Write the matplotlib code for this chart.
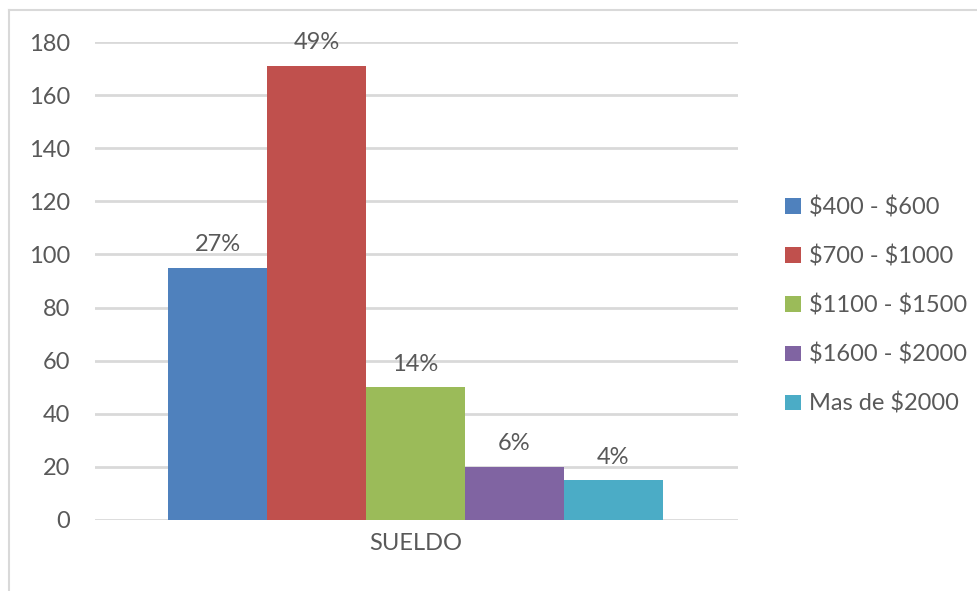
import matplotlib
matplotlib.use("Agg")
import matplotlib.pyplot as plt
from matplotlib.patches import Patch
from matplotlib.lines import Line2D

categories = ["$400 - $600", "$700 - $1000", "$1100 - $1500", "$1600 - $2000", "Mas de $2000"]
values = [95, 171, 50, 20, 15]
pct_labels = ["27%", "49%", "14%", "6%", "4%"]
colors = ["#4F81BD", "#C0504D", "#9BBB59", "#8064A2", "#4BACC6"]
group_label = "SUELDO"
yticks = [0, 20, 40, 60, 80, 100, 120, 140, 160, 180]

plt.rcParams['font.family'] = ['Lato', 'DejaVu Sans']
plt.rcParams['text.parse_math'] = False
txt = "#595959"
fs = 17

fig = plt.figure(figsize=(9.77, 5.91), dpi=100)
ax = fig.add_axes([95/977, 1-520/591, (738-95)/977, (520-42)/591])

xs = list(range(len(values)))
ax.bar(xs, values, width=1.0, color=colors, zorder=3)
for x, v, lab in zip(xs, values, pct_labels):
    ax.annotate(lab, (x, v), xytext=(0, 9), textcoords="offset points",
                ha="center", va="bottom", fontsize=fs, color=txt)

ax.set_ylim(0, 180)
ax.set_yticks(yticks)
ax.set_xlim(-1.237, 5.258)
ax.set_xticks([2])
ax.set_xticklabels([group_label])
ax.tick_params(axis="both", length=0, labelsize=fs, colors=txt)
ax.tick_params(axis="y", pad=18)
ax.tick_params(axis="x", pad=9)
ax.yaxis.grid(True, color="#d9d9d9", linewidth=2, zorder=0)
for s in ax.spines.values():
    s.set_visible(False)

handles = [Patch(facecolor=c, edgecolor="none") for c in colors]
leg = fig.legend(handles, categories, loc="upper left",
                 bbox_to_anchor=(764/977, 1-175/591),
                 frameon=False, fontsize=fs, labelcolor=txt, handlelength=0.65,
                 handleheight=0.65, handletextpad=0.35, labelspacing=1.15)

fig.add_artist(Line2D([9/977, 9/977], [0, 1-10/591], transform=fig.transFigure, color="#d9d9d9", linewidth=1.5))
fig.add_artist(Line2D([9/977, 1], [1-10/591, 1-10/591], transform=fig.transFigure, color="#d9d9d9", linewidth=1.5))

fig.savefig("out.png", dpi=100, facecolor="white")
